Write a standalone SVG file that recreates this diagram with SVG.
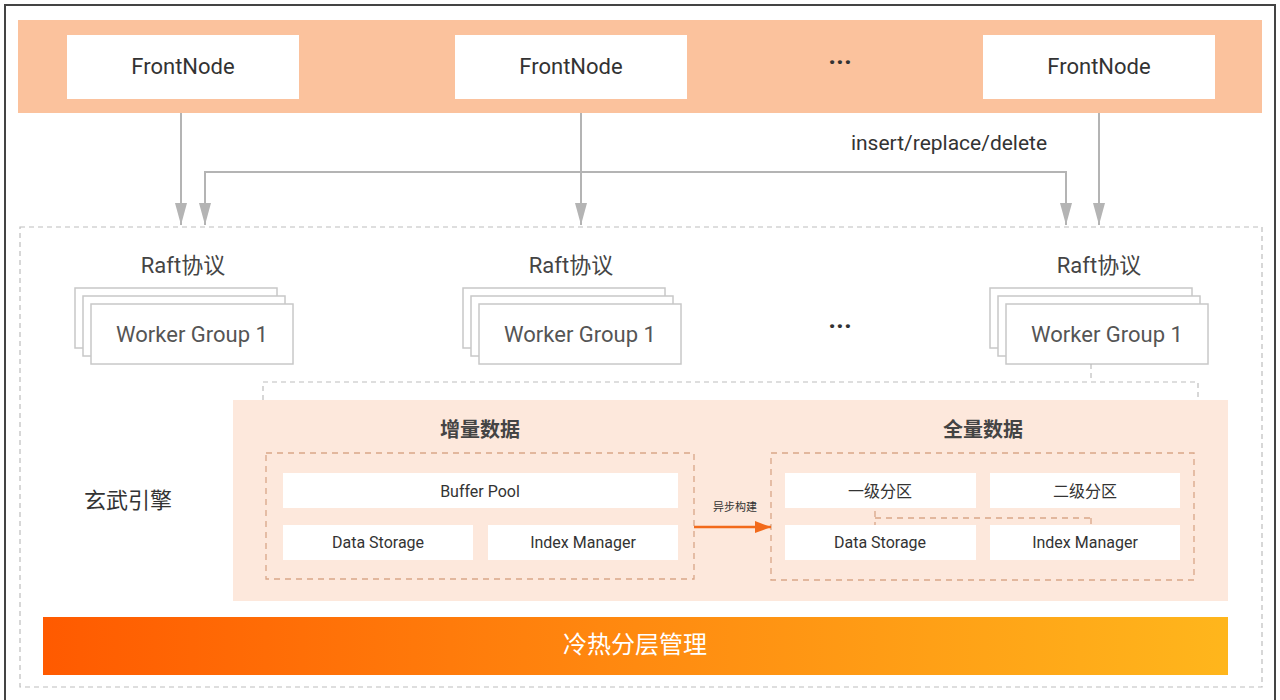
<svg xmlns="http://www.w3.org/2000/svg" width="1280" height="700" viewBox="0 0 1280 700">
<defs>
<style>
.t{font-family:Roboto,"Noto Sans","Noto Sans CJK SC",sans-serif;fill:#333;text-anchor:middle;dominant-baseline:central}
.fn{font-size:22px}
.wg{font-size:22px;fill:#555}
.sm{font-size:16px;fill:#333}
.box{fill:#fff}
.stk{fill:#fff;stroke:#c8c8c8;stroke-width:1.5}
.conn{fill:none;stroke:#b4b4b4;stroke-width:2}
.dash{fill:none;stroke:#bdbdbd;stroke-width:1.2;stroke-dasharray:5 4}
.odash{fill:none;stroke:#d9a688;stroke-width:1.3;stroke-dasharray:6 5}
</style>
<marker id="ah" viewBox="0 0 22 12" refX="22" refY="6" markerWidth="22" markerHeight="12" markerUnits="userSpaceOnUse" orient="auto-start-reverse">
<path d="M0,0 L22,6 L0,12 Z" fill="#b4b4b4"/>
</marker>
<marker id="oah" viewBox="0 0 16 12" refX="16" refY="6" markerWidth="16" markerHeight="12" markerUnits="userSpaceOnUse" orient="auto">
<path d="M0,0 L16,6 L0,12 Z" fill="#f26a1b"/>
</marker>
<linearGradient id="grad" x1="0" y1="0" x2="1" y2="0">
<stop offset="0" stop-color="#ff5a00"/>
<stop offset="0.5" stop-color="#ff8a10"/>
<stop offset="1" stop-color="#ffb61c"/>
</linearGradient>
</defs>
<rect x="0" y="0" width="1280" height="700" fill="#fff"/>
<rect x="5" y="5" width="1270" height="705" fill="none" stroke="#444" stroke-width="2"/>

<g id="front-band">
<rect x="18" y="20" width="1244" height="93" fill="#fbc29d"/>
<text class="t" x="840" y="62" style="font-size:26px;font-weight:bold">···</text>
</g>
<g id="frontnode-1"><rect class="box" x="67" y="35" width="232" height="64"/><text class="t fn" x="183" y="66">FrontNode</text></g>
<g id="frontnode-2"><rect class="box" x="455" y="35" width="232" height="64"/><text class="t fn" x="571" y="66">FrontNode</text></g>
<g id="frontnode-3"><rect class="box" x="983" y="35" width="232" height="64"/><text class="t fn" x="1099" y="66">FrontNode</text></g>

<g id="engine-area">
<rect x="20" y="227" width="1242" height="460" class="dash"/>
</g>

<g id="raft-1">
<text class="t fn" x="183" y="265" style="fill:#444">Raft协议</text>
<rect class="stk" x="75" y="288" width="202" height="60"/>
<rect class="stk" x="83" y="296" width="202" height="60"/>
<rect class="stk" x="91" y="304" width="202" height="60"/>
<text class="t wg" x="192" y="334">Worker Group 1</text>
</g>
<g id="raft-2">
<text class="t fn" x="571" y="265" style="fill:#444">Raft协议</text>
<rect class="stk" x="463" y="288" width="202" height="60"/>
<rect class="stk" x="471" y="296" width="202" height="60"/>
<rect class="stk" x="479" y="304" width="202" height="60"/>
<text class="t wg" x="580" y="334">Worker Group 1</text>
</g>
<text class="t" x="840" y="326" style="font-size:26px;font-weight:bold">···</text>
<g id="raft-3">
<text class="t fn" x="1099" y="265" style="fill:#444">Raft协议</text>
<rect class="stk" x="990" y="288" width="202" height="60"/>
<rect class="stk" x="998" y="296" width="202" height="60"/>
<rect class="stk" x="1006" y="304" width="202" height="60"/>
<text class="t wg" x="1107" y="334">Worker Group 1</text>
</g>

<text class="t" x="128" y="500" style="font-size:22px">玄武引擎</text>

<g id="engine-panel">
<rect x="233" y="400" width="995" height="201" fill="#fde8dc"/>
</g>
<g id="incremental">
<text class="t" x="480" y="430" style="font-size:20px;font-weight:bold;fill:#444">增量数据</text>
<rect class="odash" x="266" y="453" width="428" height="126"/>
<rect class="box" x="283" y="473" width="395" height="35"/>
<text class="t sm" x="480" y="491">Buffer Pool</text>
<rect class="box" x="283" y="525" width="190" height="35"/>
<text class="t sm" x="378" y="542">Data Storage</text>
<rect class="box" x="488" y="525" width="190" height="35"/>
<text class="t sm" x="583" y="542">Index Manager</text>
</g>
<g id="full">
<text class="t" x="983" y="430" style="font-size:20px;font-weight:bold;fill:#444">全量数据</text>
<rect class="odash" x="771" y="453" width="423" height="127"/>
<rect class="box" x="785" y="473" width="191" height="35"/>
<text class="t sm" x="880" y="491">一级分区</text>
<rect class="box" x="990" y="473" width="190" height="35"/>
<text class="t sm" x="1085" y="491">二级分区</text>
<rect class="box" x="785" y="525" width="191" height="35"/>
<text class="t sm" x="880" y="542">Data Storage</text>
<rect class="box" x="990" y="525" width="190" height="35"/>
<text class="t sm" x="1085" y="542">Index Manager</text>
</g>

<g id="tiering">
<rect x="43" y="617" width="1185" height="58" fill="url(#grad)"/>
<text class="t" x="635" y="645" style="font-size:24px;fill:#fff">冷热分层管理</text>
</g>

<g id="connectors">
<line class="conn" x1="181" y1="113" x2="181" y2="225" marker-end="url(#ah)"/>
<line class="conn" x1="581" y1="113" x2="581" y2="225" marker-end="url(#ah)"/>
<line class="conn" x1="1099" y1="113" x2="1099" y2="225" marker-end="url(#ah)"/>
<path class="conn" d="M205,225 V172 H1066 V225" marker-start="url(#ah)" marker-end="url(#ah)"/>
<path class="dash" d="M1091,364 V382 M263,400 V382 H1198 V400"/>
<path class="odash" d="M875,511 V525 M875,518 H1091 M1091,518 V525"/>
<line x1="694" y1="527" x2="771" y2="527" stroke="#f26a1b" stroke-width="2.5" marker-end="url(#oah)"/>
<text class="t" x="949" y="143" style="font-size:21px">insert/replace/delete</text>
<text class="t" x="735" y="507" style="font-size:11px">异步构建</text>
</g>
</svg>
